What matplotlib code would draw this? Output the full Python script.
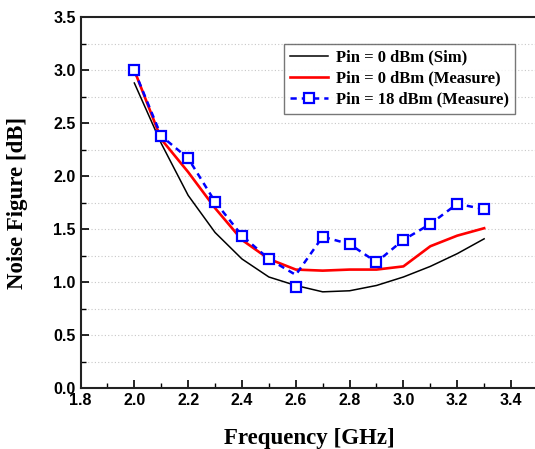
import matplotlib
matplotlib.use("Agg")
import matplotlib.pyplot as plt
from matplotlib.ticker import MultipleLocator
import numpy as np

freq = [2.0, 2.1, 2.2, 2.3, 2.4, 2.5, 2.6, 2.7, 2.8, 2.9, 3.0, 3.1, 3.2, 3.3]
nf_sim = [2.88, 2.31, 1.82, 1.47, 1.22, 1.05, 0.97, 0.91, 0.92, 0.97, 1.05, 1.15, 1.27, 1.41]
nf_meas0 = [3.00, 2.35, 2.04, 1.70, 1.40, 1.22, 1.12, 1.11, 1.12, 1.12, 1.15, 1.34, 1.44, 1.51]
nf_meas18 = [3.00, 2.38, 2.17, 1.76, 1.44, 1.22, 0.96, 1.43, 1.36, 1.19, 1.40, 1.55, 1.74, 1.69]
# connecting curve for the 18 dBm data (passes above the 2.6 GHz point)
nf_meas18_line = [3.00, 2.38, 2.17, 1.76, 1.44, 1.22, 1.07, 1.43, 1.36, 1.19, 1.40, 1.55, 1.74, 1.69]
xtick_vals = [1.8, 2.0, 2.2, 2.4, 2.6, 2.8, 3.0, 3.2, 3.4]

serif = ["Liberation Serif", "DejaVu Serif"]
sans = ["Liberation Sans", "DejaVu Sans"]

fig = plt.figure(figsize=(5.35, 4.49), dpi=100)
ax = fig.add_axes([0.1505, 0.1352, 0.855, 0.8263])

ax.plot(freq, nf_sim, color="black", lw=1.1, label="Pin = 0 dBm (Sim)")
ax.plot(freq, nf_meas0, color="#ff0000", lw=1.9, label="Pin = 0 dBm (Measure)")
ax.plot(freq, nf_meas18_line, color="#0000ff", lw=1.8, ls=(0, (2.5, 2.0)))
ax.plot(freq, nf_meas18, ls="none", marker="s", ms=7.5, mfc="white",
        mec="#0000ff", mew=1.6)
# legend proxy for the dashed+marker series
ax.plot([], [], color="#0000ff", lw=1.8, ls=(0, (2.5, 2.0)), marker="s", ms=7.5,
        mfc="white", mec="#0000ff", mew=1.6, label="Pin = 18 dBm (Measure)")

ax.set_xlim(1.8, 3.5)
ax.set_ylim(0.0, 3.5)
ax.xaxis.set_minor_locator(MultipleLocator(0.1))
ax.yaxis.set_major_locator(MultipleLocator(0.5))
ax.yaxis.set_minor_locator(MultipleLocator(0.25))
ax.set_xticks(xtick_vals)

ax.grid(True, which="both", axis="y", color="#c8c8c8", ls=(0, (1, 2)), lw=0.8)
ax.set_axisbelow(True)

ax.tick_params(which="both", direction="in", top=False, right=False)
ax.tick_params(which="major", length=6, width=1.2, labelsize=11.5)
ax.tick_params(which="minor", length=3.5, width=1.0)
ax.set_xticklabels(["%.1f" % v for v in xtick_vals], family=sans, fontweight="bold")
for lab in ax.get_yticklabels():
    lab.set_family(sans)
    lab.set_fontweight("bold")

for s in ax.spines.values():
    s.set_linewidth(1.5)
    s.set_color("#222222")

ax.set_xlabel("Frequency [GHz]", family=serif, fontweight="bold", fontsize=16.5,
              labelpad=14)
ax.set_ylabel("Noise Figure [dB]", family=serif, fontweight="bold", fontsize=16.5,
              labelpad=18)

leg = ax.legend(loc="upper right", bbox_to_anchor=(0.95, 0.928),
                prop={"family": serif, "weight": "bold", "size": 12},
                frameon=True, fancybox=False, handlelength=2.3,
                borderpad=0.35, labelspacing=0.3, handletextpad=0.5,
                borderaxespad=0)
leg.get_frame().set_edgecolor("#555555")
leg.get_frame().set_linewidth(1.0)

fig.savefig("out.png", dpi=100)
